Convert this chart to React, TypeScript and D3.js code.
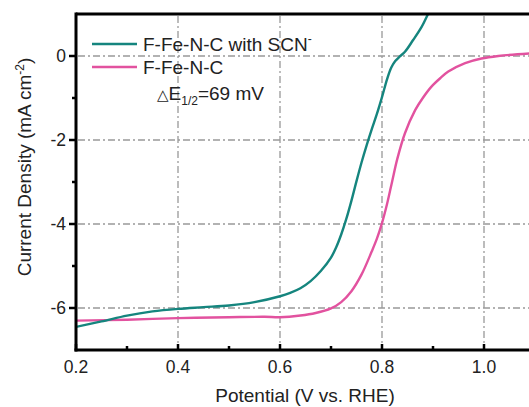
import React from "react";
import * as d3 from "d3";

const scnV = [0.2, 0.25, 0.3, 0.35, 0.4, 0.45, 0.5, 0.55, 0.6, 0.62, 0.64, 0.66, 0.68, 0.7, 0.71, 0.72, 0.73, 0.74, 0.75, 0.76, 0.77, 0.78, 0.79, 0.8, 0.81, 0.818, 0.826, 0.835, 0.845, 0.861, 0.878, 0.891, 0.9];
const scnJ = [-6.45, -6.32, -6.18, -6.08, -6.02, -5.98, -5.94, -5.86, -5.72, -5.64, -5.53, -5.36, -5.12, -4.8, -4.56, -4.25, -3.88, -3.45, -2.98, -2.53, -2.12, -1.74, -1.38, -0.98, -0.55, -0.28, -0.12, -0.01, 0.1, 0.38, 0.7, 1.02, 1.25];
const baseV = [0.2, 0.3, 0.4, 0.5, 0.57, 0.6, 0.64, 0.67, 0.7, 0.72, 0.74, 0.76, 0.78, 0.79, 0.8, 0.81, 0.82, 0.83, 0.845, 0.865, 0.88, 0.897, 0.915, 0.93, 0.963, 0.995, 1.028, 1.09];
const baseJ = [-6.3, -6.28, -6.24, -6.22, -6.21, -6.22, -6.18, -6.12, -6.01, -5.86, -5.6, -5.2, -4.65, -4.35, -3.98, -3.52, -2.98, -2.45, -1.84, -1.29, -1.0, -0.73, -0.52, -0.37, -0.17, -0.06, 0.0, 0.06];

const xMajor = [0.2, 0.4, 0.6, 0.8, 1.0];
const xMinor = [0.3, 0.5, 0.7, 0.9];
const yMajor = [0, -2, -4, -6];
const yMinor = [-1, -3, -5];
const xTickLabels = ["0.2", "0.4", "0.6", "0.8", "1.0"];
const yTickLabels = ["0", "-2", "-4", "-6"];

const W = 529, H = 407;
const L = 76, T = 14, B = 350;

export default function App() {
  const x = d3.scaleLinear().domain([0.2, 1.1]).range([L, L + 0.9 * 510]);
  const y = d3.scaleLinear().domain([-7, 1]).range([B, T]);
  const line = d3.line<[number, number]>().x(d => x(d[0])).y(d => y(d[1])).curve(d3.curveCatmullRom.alpha(0.5));
  const scn = scnV.map((v, i) => [v, scnJ[i]] as [number, number]);
  const base = baseV.map((v, i) => [v, baseJ[i]] as [number, number]);
  const teal = "#15857e";
  const pink = "#e2529f";
  const font = "'Liberation Sans', Arial, sans-serif";
  const grid = "#999999";
  const gx = xMajor.slice(1);
  return (
    <svg width={W} height={H} style={{ position: "absolute", left: 0, top: 0, background: "#fff" }} fontFamily={font}>
      <defs>
        <clipPath id="plot"><rect x={L} y={T} width={W - L} height={B - T} /></clipPath>
      </defs>
      {gx.map(v => (
        <path key={"gxp" + v} d={`M${x(v)},${T + 2}L${x(v)},${B - 2}`} stroke={grid} strokeWidth={1.3} strokeDasharray="7 3 2 3" fill="none" />
      ))}
      {yMajor.map(v => (
        <path key={"gyp" + v} d={`M${L + 2},${y(v)}L${W},${y(v)}`} stroke={grid} strokeWidth={1.3} strokeDasharray="7 3 2 3" fill="none" />
      ))}
      <g clipPath="url(#plot)">
        <path d={line(base) || ""} fill="none" stroke={pink} strokeWidth={2.4} />
        <path d={line(scn) || ""} fill="none" stroke={teal} strokeWidth={2.4} />
      </g>
      <line x1={L} x2={W} y1={T} y2={T} stroke="#000" strokeWidth={3} />
      <line x1={L} x2={L} y1={T - 1.5} y2={B + 1.5} stroke="#000" strokeWidth={3} />
      <line x1={L - 1.5} x2={W} y1={B} y2={B} stroke="#000" strokeWidth={3} />
      {xMajor.map(v => (
        <line key={"xt" + v} x1={x(v)} x2={x(v)} y1={B} y2={B - 6} stroke="#000" strokeWidth={2.5} />
      ))}
      {xMinor.map(v => (
        <line key={"xm" + v} x1={x(v)} x2={x(v)} y1={B} y2={B - 4} stroke="#000" strokeWidth={2.5} />
      ))}
      {yMajor.map(v => (
        <line key={"yt" + v} x1={L} x2={L - 7} y1={y(v)} y2={y(v)} stroke="#000" strokeWidth={2.5} />
      ))}
      {yMinor.map(v => (
        <line key={"ym" + v} x1={L} x2={L - 4} y1={y(v)} y2={y(v)} stroke="#000" strokeWidth={2.5} />
      ))}
      {xMajor.map((v, i) => (
        <text key={"xl" + v} x={x(v)} y={373} textAnchor="middle" fontSize={17.5} fill="#222">{xTickLabels[i]}</text>
      ))}
      {yMajor.map((v, i) => (
        <text key={"yl" + v} x={66} y={y(v) + 6} textAnchor="end" fontSize={17.5} fill="#222">{yTickLabels[i]}</text>
      ))}
      <text x={305} y={402} textAnchor="middle" fontSize={19} fill="#222">Potential (V vs. RHE)</text>
      <text transform="translate(31,167) rotate(-90)" textAnchor="middle" fontSize={19} fill="#222">
        Current Density (mA cm<tspan dy={-7} fontSize={12}>-2</tspan><tspan dy={7}>)</tspan>
      </text>
      <line x1={92} x2={137} y1={44} y2={44} stroke={teal} strokeWidth={2.6} />
      <text x={143} y={51} fontSize={19} fill="#222">F-Fe-N-C with SCN<tspan dy={-8} fontSize={12}>-</tspan></text>
      <line x1={92} x2={137} y1={67} y2={67} stroke={pink} strokeWidth={2.6} />
      <text x={143} y={74} fontSize={19} fill="#222">F-Fe-N-C</text>
      <text x={157} y={100} fontSize={19} fill="#222">
        <tspan fontFamily="'DejaVu Sans'" fontSize={15}>△</tspan>E<tspan dy={5} fontSize={12}>1/2</tspan><tspan dy={-5}>=69 mV</tspan>
      </text>
    </svg>
  );
}
